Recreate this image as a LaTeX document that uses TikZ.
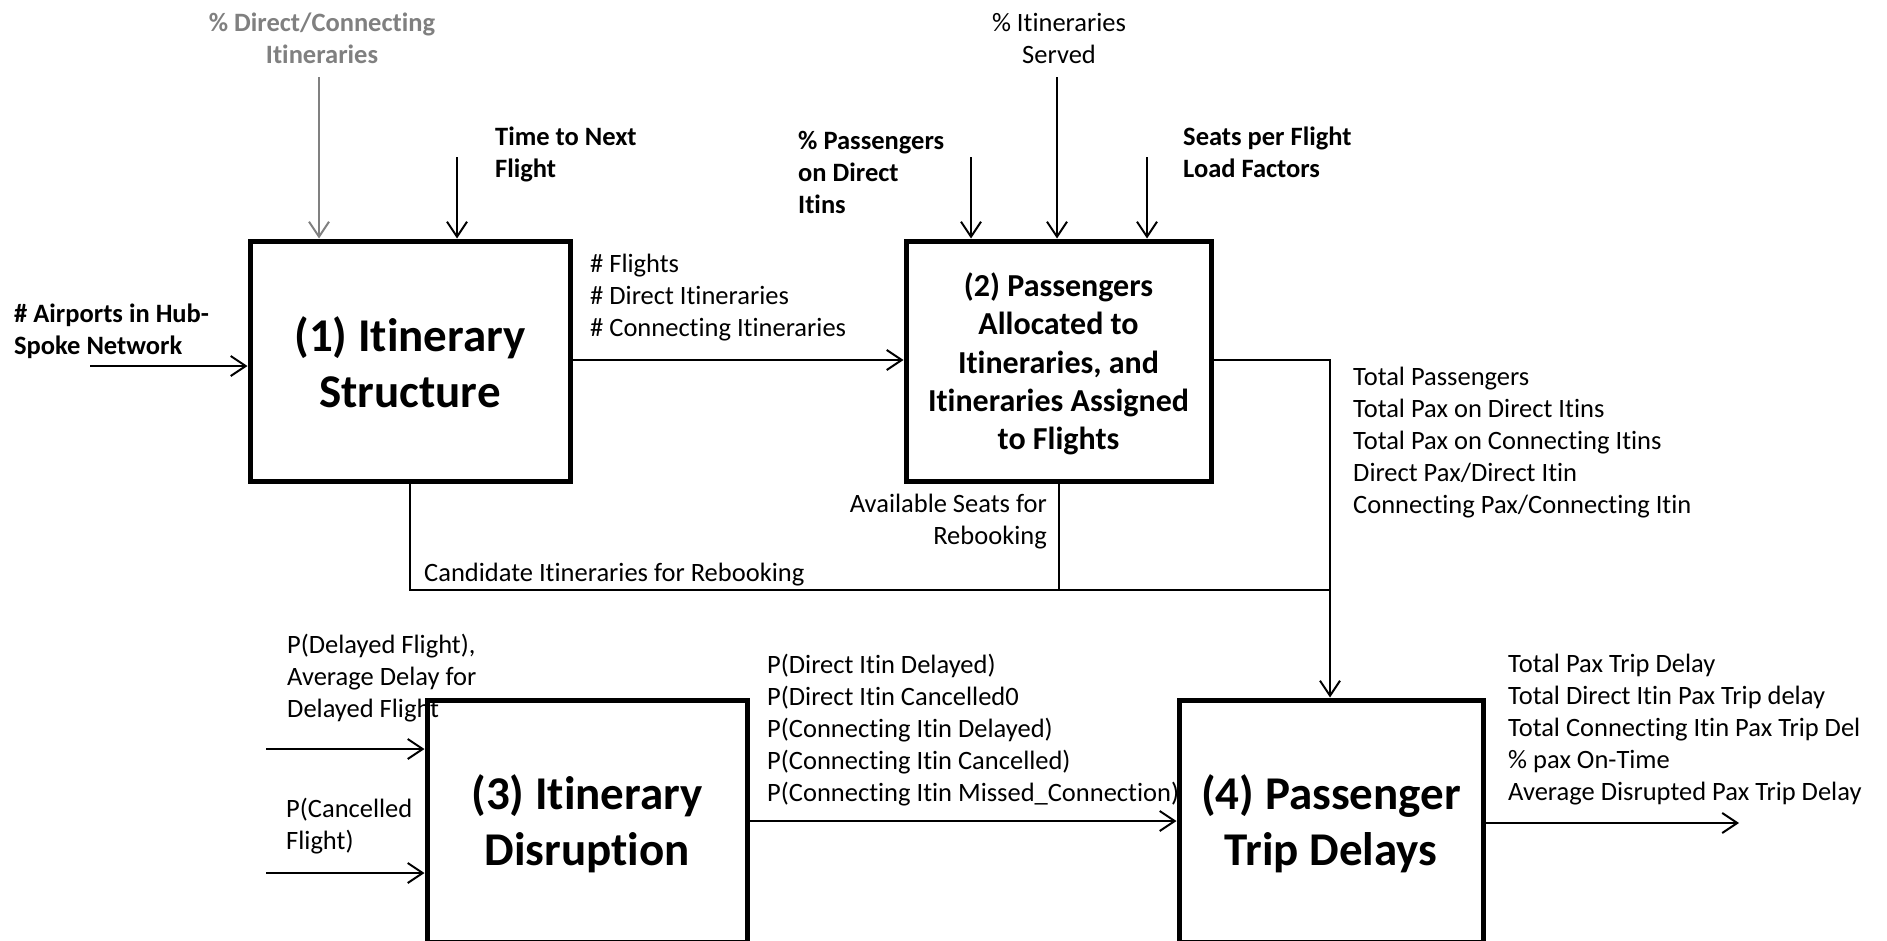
\documentclass[tikz,border=0pt]{standalone}
\usepackage{fontspec}
\setmainfont{Carlito}[Ligatures=NoCommon]
\usetikzlibrary{arrows.meta}
\definecolor{gr}{RGB}{128,128,128}
\begin{document}
\begin{tikzpicture}[x=1pt,y=-1pt,
  lbl/.style={inner sep=0pt, align=left, font=\fontsize{26.5}{32}\selectfont, execute at begin node=\strut},
  blbl/.style={lbl, font=\bfseries\fontsize{26.5}{32}\selectfont},
  box/.style={draw, line width=5pt, inner sep=0pt},
  bigt/.style={font=\bfseries\fontsize{47}{56}\selectfont, align=center},
  midt/.style={font=\bfseries\fontsize{32}{38.3}\selectfont, align=center},
  conn/.style={line width=2pt},
  arr/.style={conn, -{Straight Barb[length=15pt,width=20pt]}},
  garr/.style={arr, draw=gr}
]
\useasboundingbox (0,0) rectangle (1887,940);
\clip (0,0) rectangle (1887,940);

% labels
\node[blbl, text=gr, align=center, anchor=north] (tdc) at (322,13) {\% Direct/Connecting\\Itineraries};
\node[blbl, anchor=north west] (ttime) at (495,127) {Time to Next\\Flight};
\node[blbl, anchor=north west] (tair) at (14,304) {\# Airports in Hub-\\Spoke Network};
\node[lbl, anchor=north west] (tfl) at (590,254) {\# Flights\\\# Direct Itineraries\\\# Connecting Itineraries};
\node[blbl, anchor=north west] (tpp) at (798,131) {\% Passengers\\on Direct\\Itins};
\node[lbl, align=center, anchor=north] (tis) at (1059,13) {\% Itineraries\\Served};
\node[blbl, anchor=north west] (tseats) at (1183,127) {Seats per Flight\\Load Factors};
\node[lbl, anchor=north west] (ttot) at (1353,367) {Total Passengers\\Total Pax on Direct Itins\\Total Pax on Connecting Itins\\Direct Pax/Direct Itin\\Connecting Pax/Connecting Itin};
\node[lbl, align=right, anchor=north east] (tavail) at (1047,494) {Available Seats for\\Rebooking};
\node[lbl, anchor=north west] (tcand) at (424,559) {Candidate Itineraries for Rebooking};
\node[lbl, anchor=north west] (tpdel) at (287,634) {P(Delayed Flight),\\Average Delay for\\Delayed Flight};
\node[lbl, anchor=north west] (tpcan) at (286,798) {P(Cancelled\\Flight)};
\node[lbl, anchor=north west] (tpdir) at (767,654) {P(Direct Itin Delayed)\\P(Direct Itin Cancelled0\\P(Connecting Itin Delayed)\\P(Connecting Itin Cancelled)\\P(Connecting Itin Missed\_Connection)};
\node[lbl, anchor=north west] (tout) at (1508,654) {Total Pax Trip Delay\\Total Direct Itin Pax Trip delay\\Total Connecting Itin Pax Trip Del\\\% pax On-Time\\Average Disrupted Pax Trip Delay};

% boxes
\node[box, minimum width=320pt, minimum height=240pt] (b1) at (410,361) {};
\node[box, minimum width=305pt, minimum height=240pt] (b2) at (1058.5,361) {};
\node[box, minimum width=320pt, minimum height=242pt] (b3) at (587,821) {};
\node[box, minimum width=304pt, minimum height=242pt] (b4) at (1331,821) {};
\node[bigt] (b1t) at ([yshift=-1pt]b1.center) {(1) Itinerary\\Structure};
\node[midt] (b2t) at ([yshift=-3pt]b2.center) {(2) Passengers\\Allocated to\\Itineraries, and\\Itineraries Assigned\\to Flights};
\node[bigt] (b3t) at ([yshift=-3pt]b3.center) {(3) Itinerary\\Disruption};
\node[bigt] (b4t) at ([yshift=-3pt]b4.center) {(4) Passenger\\Trip Delays};

% coordinates
\coordinate (cdc) at (319,77);
\coordinate (ctime) at (457,157);
\coordinate (cair) at (90,366);
\coordinate (y360) at (0,360);
\coordinate (cpp) at (971,157);
\coordinate (cis) at (1057,77);
\coordinate (cseats) at (1147,157);
\coordinate (cj) at (1330,590);
\coordinate (cd) at (266,749);
\coordinate (cc) at (266,873);
\coordinate (y821) at (0,821);
\coordinate (cout) at (1739,823);

% connectors
\draw[garr] (cdc) -- (cdc |- b1.north);
\draw[arr] (ctime) -- (ctime |- b1.north);
\draw[arr] (cair) -- (cair -| b1.west);
\draw[arr] (b1.east |- y360) -- (b2.west |- y360);
\draw[arr] (cpp) -- (cpp |- b2.north);
\draw[arr] (cis) -- (cis |- b2.north);
\draw[arr] (cseats) -- (cseats |- b2.north);
\draw[arr] (b2.east |- y360) -- (cj |- y360) -- (cj |- b4.north);
\draw[conn] (b1.south) |- (cj);
\draw[conn] (b2.south) -- (b2.south |- cj);
\draw[arr] (cd) -- (cd -| b3.west);
\draw[arr] (cc) -- (cc -| b3.west);
\draw[arr] (b3.east |- y821) -- (b4.west |- y821);
\draw[arr] (b4.east |- cout) -- (cout);
\end{tikzpicture}
\end{document}
